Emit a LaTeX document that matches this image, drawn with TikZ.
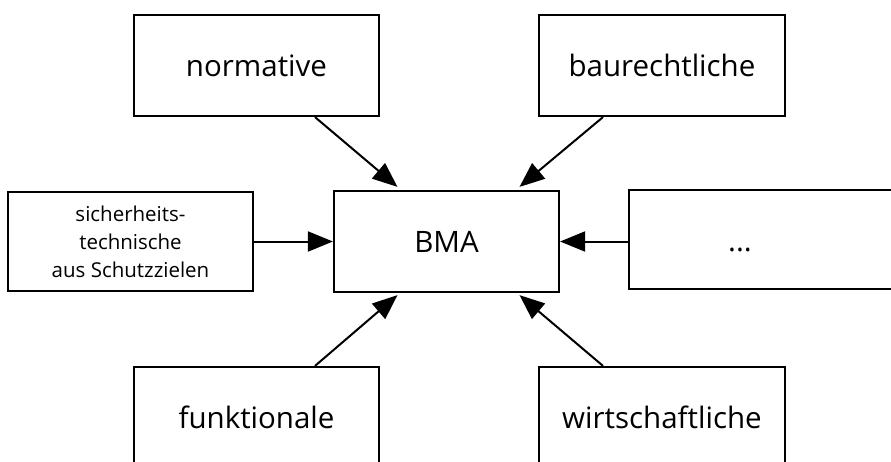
\documentclass[tikz,border=0pt]{standalone}
\usepackage{fontspec}
\setmainfont{Open Sans}
\usetikzlibrary{arrows.meta,calc}
\tikzset{
  box/.style={draw=black, line width=2.2pt, fill=white, rectangle, inner sep=0pt,
    font=\fontsize{29.5}{34}\selectfont},
  smallbox/.style={box, align=center, font=\fontsize{20.5}{28}\selectfont},
  flow/.style={line width=2pt, -{Triangle[length=25pt,width=20pt]}}
}
\begin{document}
\begin{tikzpicture}[x=1pt,y=-1pt]
  \useasboundingbox (0,0) rectangle (891,461);
  % central node and the influencing factors around it
  \node[box, minimum width=225pt, minimum height=101pt] (bma) at (446.5,241.5) {BMA};
  \node[box, minimum width=245pt, minimum height=101pt] (norm) at (256.5,65.5) {normative};
  \node[box, minimum width=246pt, minimum height=101pt] (bau) at (662,65.5) {baurechtliche};
  \node[smallbox, minimum width=245pt, minimum height=99pt] (sich) at (130.5,241.5)
    {sicherheits-\\technische\\aus Schutzzielen};
  \node[box, minimum width=276pt, minimum height=99pt] (more) at (767,239.5) {};
  \node[font=\fontsize{29.5}{34}\selectfont, inner sep=0pt, anchor=base] (moretxt) at (740,251) {...};
  \node[box, minimum width=245pt, minimum height=101pt] (funk) at (256.5,417.5) {funktionale};
  \node[box, minimum width=246pt, minimum height=101pt] (wirt) at (662,417.5) {wirtschaftliche};
  % arrows pointing into the central node
  \draw[flow] ($(norm.south)+(58.5,0)$) -- ($(bma.north)+(-49,-3)$);
  \draw[flow] ($(bau.south)+(-59,0)$) -- ($(bma.north)+(73,-3)$);
  \draw[flow] (sich.east) -- (bma.west);
  \draw[flow] (more.west |- bma.east) -- (bma.east);
  \draw[flow] ($(funk.north)+(58.5,0)$) -- ($(bma.south)+(-49,2)$);
  \draw[flow] ($(wirt.north)+(-59,0)$) -- ($(bma.south)+(73,2)$);
\end{tikzpicture}
\end{document}
